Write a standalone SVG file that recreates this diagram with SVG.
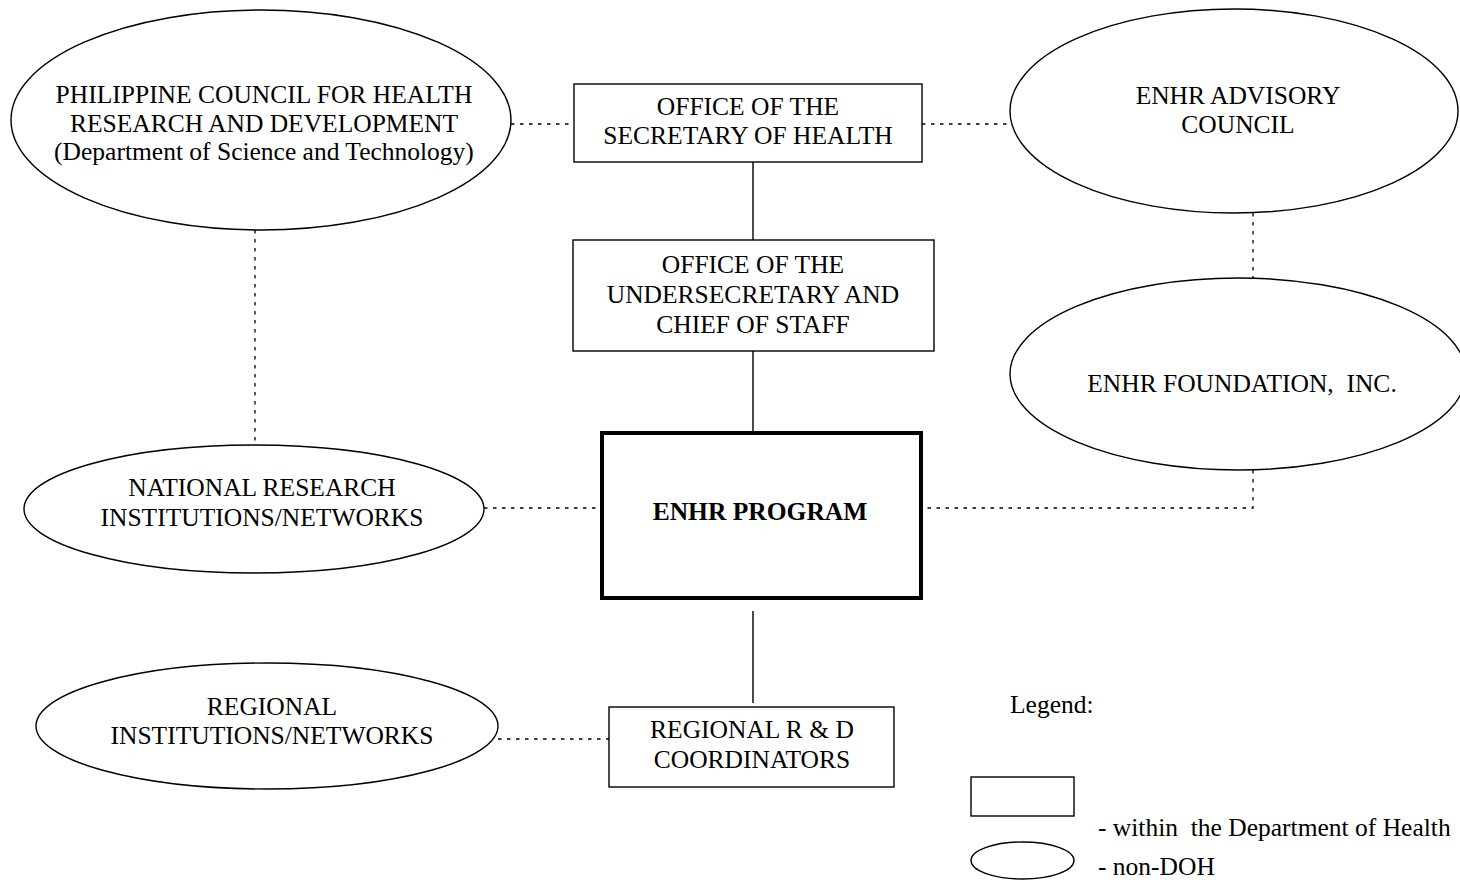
<svg xmlns="http://www.w3.org/2000/svg" width="1460" height="884" viewBox="0 0 1460 884">
<style>
text{font-family:"Liberation Serif","Times New Roman",serif;font-size:25.5px;fill:#000;text-anchor:middle}
.shape{fill:#fff;stroke:#000;stroke-width:1.4}
.solid{stroke:#000;stroke-width:1.4;fill:none}
.dot{stroke:#000;stroke-width:1.3;fill:none;stroke-dasharray:3.5 5.5}
.bold{font-weight:bold}
.left{text-anchor:start}
</style>
<rect x="0" y="0" width="1460" height="884" fill="#fff"/>
<g id="connectors">
<line class="dot" x1="511" y1="124" x2="574" y2="124"/>
<line class="dot" x1="922" y1="124" x2="1011" y2="124"/>
<line class="solid" x1="753" y1="162" x2="753" y2="240"/>
<line class="solid" x1="753" y1="351" x2="753" y2="433"/>
<line class="dot" x1="255" y1="230" x2="255" y2="445"/>
<line class="dot" x1="1253" y1="213" x2="1253" y2="278"/>
<polyline class="dot" points="1253,470 1253,508 921,508"/>
<line class="dot" x1="484" y1="508" x2="602" y2="508"/>
<line class="solid" x1="753" y1="611" x2="753" y2="703"/>
<line class="dot" x1="498" y1="739" x2="609" y2="739"/>
</g>
<g id="pchrd">
<ellipse class="shape" cx="261" cy="120" rx="250" ry="110"/>
<text x="264" y="103">PHILIPPINE COUNCIL FOR HEALTH</text>
<text x="264" y="132">RESEARCH AND DEVELOPMENT</text>
<text x="264" y="160">(Department of Science and Technology)</text>
</g>
<g id="secretary">
<rect class="shape" x="574" y="84" width="348" height="78"/>
<text x="748" y="115">OFFICE OF THE</text>
<text x="748" y="144">SECRETARY OF HEALTH</text>
</g>
<g id="advisory">
<ellipse class="shape" cx="1234" cy="111" rx="224" ry="102"/>
<text x="1238" y="104">ENHR ADVISORY</text>
<text x="1238" y="133">COUNCIL</text>
</g>
<g id="undersecretary">
<rect class="shape" x="573" y="240" width="361" height="111"/>
<text x="753" y="273">OFFICE OF THE</text>
<text x="753" y="303">UNDERSECRETARY AND</text>
<text x="753" y="333">CHIEF OF STAFF</text>
</g>
<g id="foundation">
<ellipse class="shape" cx="1238" cy="374" rx="228" ry="96"/>
<text x="1242" y="392" xml:space="preserve">ENHR FOUNDATION,  INC.</text>
</g>
<g id="national">
<ellipse class="shape" cx="254" cy="509" rx="230" ry="64"/>
<text x="262" y="496">NATIONAL RESEARCH</text>
<text x="262" y="526">INSTITUTIONS/NETWORKS</text>
</g>
<g id="enhr-program">
<rect x="602" y="433" width="319" height="165" fill="#fff" stroke="#000" stroke-width="4"/>
<text class="bold" x="760" y="520">ENHR PROGRAM</text>
</g>
<g id="regional">
<ellipse class="shape" cx="267" cy="726" rx="231" ry="63"/>
<text x="272" y="715">REGIONAL</text>
<text x="272" y="744">INSTITUTIONS/NETWORKS</text>
</g>
<g id="regional-rd">
<rect class="shape" x="609" y="707" width="285" height="80"/>
<text x="752" y="738">REGIONAL R &amp; D</text>
<text x="752" y="768">COORDINATORS</text>
</g>
<g id="legend">
<text class="left" x="1010" y="713">Legend:</text>
<rect class="shape" x="971" y="777" width="103" height="39"/>
<text class="left" x="1098" y="836" xml:space="preserve">- within  the Department of Health</text>
<ellipse class="shape" cx="1022.5" cy="860.5" rx="51.5" ry="18.5"/>
<text class="left" x="1098" y="875">- non-DOH</text>
</g>
</svg>
